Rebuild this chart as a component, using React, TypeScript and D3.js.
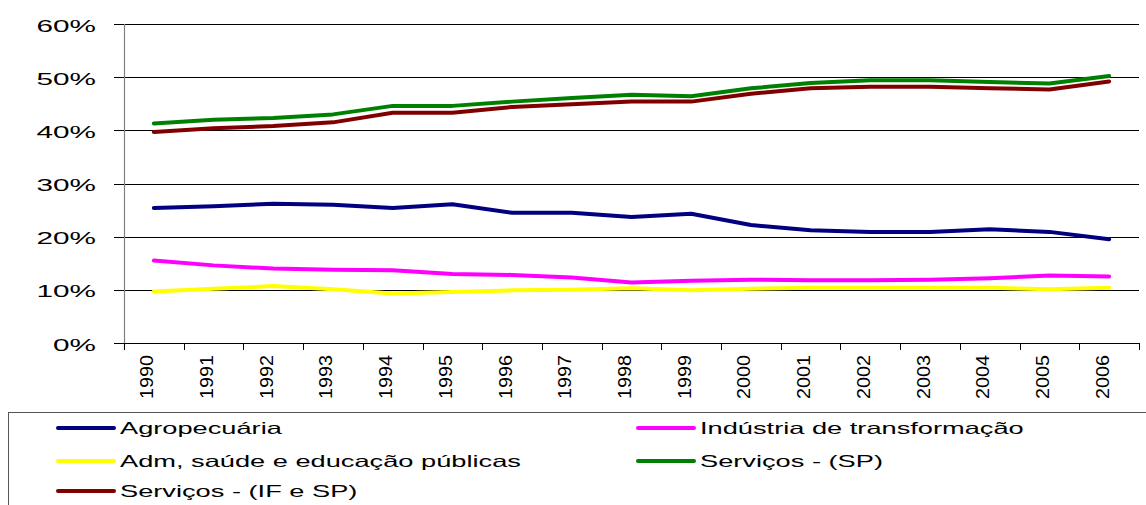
import * as d3 from 'd3';

const years = ['1990', '1991', '1992', '1993', '1994', '1995', '1996', '1997', '1998', '1999', '2000', '2001', '2002', '2003', '2004', '2005', '2006'];

const agropecuaria = [25.4, 25.7, 26.2, 26.0, 25.4, 26.1, 24.5, 24.5, 23.7, 24.3, 22.2, 21.2, 20.9, 20.9, 21.4, 20.9, 19.5];
const industria = [15.5, 14.6, 14.0, 13.8, 13.7, 13.0, 12.8, 12.3, 11.4, 11.7, 11.9, 11.8, 11.8, 11.9, 12.2, 12.7, 12.5];
const admPublica = [9.7, 10.2, 10.7, 10.1, 9.3, 9.6, 9.9, 10.0, 10.3, 9.9, 10.2, 10.4, 10.4, 10.4, 10.4, 10.1, 10.4];
const servicosSP = [41.3, 42.0, 42.3, 43.0, 44.6, 44.6, 45.4, 46.1, 46.7, 46.4, 47.9, 48.9, 49.4, 49.4, 49.1, 48.8, 50.2];
const servicosIF = [39.7, 40.4, 40.8, 41.5, 43.3, 43.3, 44.4, 44.9, 45.4, 45.4, 46.9, 47.9, 48.2, 48.2, 47.9, 47.7, 49.2];

const yTicks = [0, 10, 20, 30, 40, 50, 60];

const series = [
  { name: 'Agropecuária', values: agropecuaria, color: '#000080' },
  { name: 'Indústria de transformação', values: industria, color: '#ff00ff' },
  { name: 'Adm, saúde e educação públicas', values: admPublica, color: '#ffff00' },
  { name: 'Serviços - (SP)', values: servicosSP, color: '#008000' },
  { name: 'Serviços - (IF e SP)', values: servicosIF, color: '#800000' },
];

const W = 1146;
const H = 505;
const FONT = '"Liberation Sans", Arial, sans-serif';

export default function App() {
  const left = 124;
  const right = 1139;
  const top = 24;
  const bottom = 343;

  const x = d3.scaleBand().domain(years).range([left, right]).padding(0);
  const y = d3.scaleLinear().domain([0, 60]).range([bottom, top]);
  const cx = (yr: string) => (x(yr) || 0) + x.bandwidth() / 2;

  const line = d3.line<number>()
    .x((_, i) => cx(years[i]))
    .y(d => y(d));

  const tickXs = years.map(yr => x(yr) || 0).concat([right]);

  // legend: two columns, rows filled left to right
  const legendCols = [58, 638];
  const legendRows = [428, 461, 491];

  return (
    <svg width={W} height={H} style={{ position: 'absolute', left: 0, top: 0, background: '#fff' }} fontFamily={FONT}>
      {/* gridlines */}
      {yTicks.map(t => (
        <line key={t} x1={left - 10} x2={right} y1={Math.round(y(t)) + 0.5} y2={Math.round(y(t)) + 0.5} stroke="#000" strokeWidth={1} />
      ))}
      {/* y axis */}
      <line x1={left + 0.5} x2={left + 0.5} y1={top} y2={bottom + 7} stroke="#808080" strokeWidth={1.2} />
      {/* x ticks */}
      {tickXs.map((tx, i) => (
        <line key={i} x1={Math.round(tx) + 0.5} x2={Math.round(tx) + 0.5} y1={bottom} y2={bottom + 7} stroke="#000" strokeWidth={1} />
      ))}
      {/* y labels */}
      {yTicks.map(t => (
        <text key={t} transform={`translate(96,${y(t)}) scale(1.75,1)`} textAnchor="end" dy="0.45em" fontSize={17} fill="#000">
          {t}%
        </text>
      ))}
      {/* x labels */}
      {years.map(yr => (
        <text key={yr} transform={`translate(${cx(yr) - 0.5},355) rotate(-90)`} textAnchor="end" fontSize={18}
          textLength={44} lengthAdjust="spacingAndGlyphs" fill="#000">
          {yr}
        </text>
      ))}
      {/* series */}
      {series.map(s => (
        <path key={s.name} d={line(s.values) || ''} fill="none" stroke={s.color} strokeWidth={4}
          strokeLinejoin="round" strokeLinecap="round" />
      ))}
      {/* legend */}
      <rect x={8.5} y={412.5} width={1200} height={200} fill="none" stroke="#555" strokeWidth={1} />
      {series.map((s, i) => {
        const lx = legendCols[i % 2];
        const ly = legendRows[Math.floor(i / 2)];
        return (
          <g key={s.name}>
            <line x1={lx} x2={lx + 56} y1={ly} y2={ly} stroke={s.color} strokeWidth={4} strokeLinecap="round" />
            <text transform={`translate(${lx + 62},${ly}) scale(1.65,1)`} dy="0.36em" fontSize={16.5} fill="#000">
              {s.name}
            </text>
          </g>
        );
      })}
    </svg>
  );
}
